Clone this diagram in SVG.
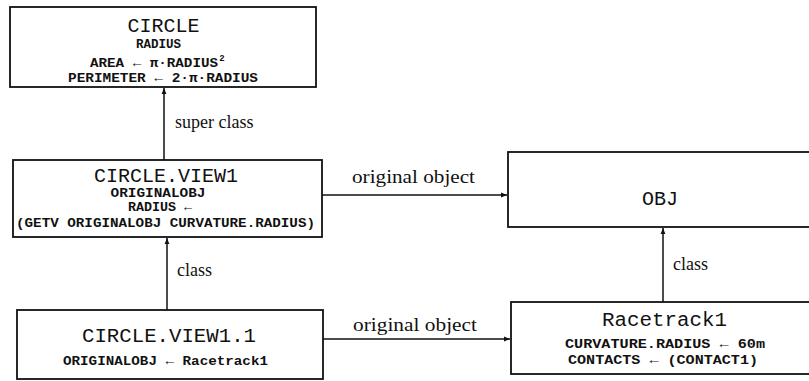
<svg xmlns="http://www.w3.org/2000/svg" width="809" height="381" viewBox="0 0 809 381">
<style>
.box{fill:none;stroke:#111;stroke-width:1.8}
.title{font-family:"Liberation Mono",monospace;font-size:20px;fill:#111;text-anchor:middle}
.sub{font-family:"Liberation Mono",monospace;font-size:12.5px;font-weight:bold;fill:#111;text-anchor:middle}
.lbl{font-family:"Liberation Serif",serif;font-size:18px;fill:#111}
.con{stroke:#111;stroke-width:1.5;fill:none}
</style>
<defs>
<marker id="ah" viewBox="0 0 10 10" refX="10" refY="5" markerWidth="7" markerHeight="6" orient="auto" markerUnits="userSpaceOnUse">
<path d="M0,1 L10,5 L0,9 z" fill="#111"/>
</marker>
</defs>
<rect width="809" height="381" fill="#fff"/>
<g id="circle">
<rect class="box" x="10" y="7" width="306" height="80"/>
<text class="title" x="163.5" y="32">CIRCLE</text>
<text class="sub" x="158.5" y="48">RADIUS</text>
<text class="sub" x="154" y="67" textLength="128" lengthAdjust="spacingAndGlyphs">AREA ← π·RADIUS</text>
<text class="sub" x="222" y="61" style="font-size:9px">2</text>
<text class="sub" x="163" y="82" textLength="190" lengthAdjust="spacingAndGlyphs">PERIMETER ← 2·π·RADIUS</text>
</g>
<g id="circle-view1">
<rect class="box" x="13" y="160" width="309" height="77"/>
<text class="title" x="166" y="182">CIRCLE.VIEW1</text>
<text class="sub" x="158" y="197" textLength="95" lengthAdjust="spacingAndGlyphs">ORIGINALOBJ</text>
<text class="sub" x="160" y="211" textLength="64" lengthAdjust="spacingAndGlyphs">RADIUS ←</text>
<text class="sub" x="165.5" y="227" textLength="299" lengthAdjust="spacingAndGlyphs">(GETV ORIGINALOBJ CURVATURE.RADIUS)</text>
</g>
<g id="circle-view1-1">
<rect class="box" x="17" y="310" width="306" height="69"/>
<text class="title" x="169" y="342" textLength="174" lengthAdjust="spacingAndGlyphs">CIRCLE.VIEW1.1</text>
<text class="sub" x="165.5" y="365" textLength="205" lengthAdjust="spacingAndGlyphs">ORIGINALOBJ ← Racetrack1</text>
</g>
<g id="obj">
<rect class="box" x="508" y="152" width="310" height="75"/>
<text class="title" x="660" y="205">OBJ</text>
</g>
<g id="racetrack1">
<rect class="box" x="511" y="302" width="310" height="72"/>
<text class="title" x="664.5" y="326" textLength="125" lengthAdjust="spacingAndGlyphs">Racetrack1</text>
<text class="sub" x="665" y="348" textLength="200" lengthAdjust="spacingAndGlyphs">CURVATURE.RADIUS ← 60m</text>
<text class="sub" x="663" y="364" textLength="190" lengthAdjust="spacingAndGlyphs">CONTACTS ← (CONTACT1)</text>
</g>
<g id="connectors">
<line class="con" x1="164" y1="160" x2="164" y2="88" marker-end="url(#ah)"/>
<text class="lbl" x="175" y="128">super class</text>
<line class="con" x1="167" y1="310" x2="167" y2="238" marker-end="url(#ah)"/>
<text class="lbl" x="177" y="276">class</text>
<line class="con" x1="322" y1="195" x2="507" y2="195" marker-end="url(#ah)"/>
<text class="lbl" x="352" y="183" textLength="123" lengthAdjust="spacingAndGlyphs">original object</text>
<line class="con" x1="323" y1="339" x2="510" y2="339" marker-end="url(#ah)"/>
<text class="lbl" x="353" y="331" textLength="124" lengthAdjust="spacingAndGlyphs">original object</text>
<line class="con" x1="663" y1="302" x2="663" y2="228" marker-end="url(#ah)"/>
<text class="lbl" x="673" y="270">class</text>
</g>
</svg>
